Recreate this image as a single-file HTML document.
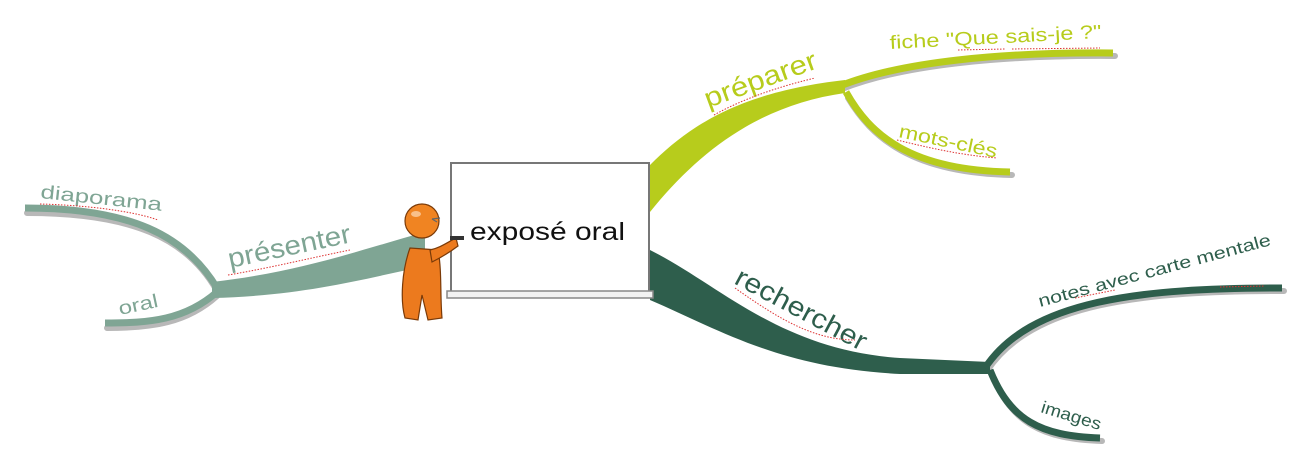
<!DOCTYPE html>
<html><head><meta charset="utf-8"><style>
html,body{margin:0;padding:0;background:#fff}
svg{display:block}
text{font-family:"Liberation Sans",sans-serif}
</style></head><body>
<svg width="1313" height="473" viewBox="0 0 1313 473" xmlns="http://www.w3.org/2000/svg">
<rect width="1313" height="473" fill="#fff"/>
<g fill="none" stroke="#b8b8b8" stroke-linecap="round" transform="translate(2,3)">
<path d="M840,86 C900,62 1000,52 1113,53" stroke-width="6"/>
<path d="M846,95 C870,135 910,170 1010,172" stroke-width="6"/>
<path d="M985,368 C1030,300 1140,288 1282,288" stroke-width="6"/>
<path d="M990,372 C1010,420 1040,436 1100,438" stroke-width="6"/>
<path d="M215,288 C185,235 130,210 25,210" stroke-width="6"/>
<path d="M215,293 C185,320 150,325 105,325" stroke-width="6"/>
</g>
<g fill="#b7cc1c" stroke="#b7cc1c">
<path d="M650,165 C690,125 740,92 845,80 L845,93 C760,105 700,150 650,212 Z" stroke="none"/>
<path fill="none" stroke-width="7" d="M840,86 C900,62 1000,52 1113,53"/>
<path fill="none" stroke-width="7" d="M846,92 C870,135 910,170 1010,172"/>
</g>
<g fill="#2e5e4c" stroke="#2e5e4c">
<path d="M650,250 C720,285 780,350 900,358 L990,362 L990,374 L900,374 C780,368 720,330 650,300 Z" stroke="none"/>
<path fill="none" stroke-width="7" d="M985,368 C1030,300 1140,288 1282,288"/>
<path fill="none" stroke-width="7" d="M990,370 C1010,420 1040,436 1100,438"/>
</g>
<g fill="#7fa594" stroke="#7fa594">
<path d="M425,232 C360,250 300,272 212,282 L212,298 C300,296 360,280 425,266 Z" stroke="none"/>
<path fill="none" stroke-width="7" d="M217,288 C185,235 130,208 25,208"/>
<path fill="none" stroke-width="7" d="M217,292 C185,320 150,323 105,323"/>
</g>
<rect x="451" y="163" width="198" height="130" fill="#fff" stroke="#777" stroke-width="2"/>
<rect x="447" y="291" width="206" height="7" fill="#f2f2f2" stroke="#888" stroke-width="1.5"/>
<text x="470" y="240" font-size="25" fill="#111" textLength="155" lengthAdjust="spacingAndGlyphs">exposé oral</text>
<g stroke="#7a3a08" stroke-width="1.2">
<path d="M410,248 C402,270 400,300 405,318 L418,320 L422,295 L428,320 L442,318 C440,295 442,270 438,250 Z" fill="#ec7a1e"/>
<path d="M430,250 C440,248 448,242 456,238 L458,246 C450,252 440,258 432,262 Z" fill="#ec7a1e"/>
<circle cx="422" cy="221" r="17" fill="#f08422"/>
<ellipse cx="416" cy="214" rx="5" ry="3" fill="#f9c08a" stroke="none"/>
</g>
<path d="M432,219 l8,-1 m-8,1 l5,3" stroke="#666" fill="none" stroke-width="1.2"/>
<rect x="450" y="236" width="14" height="4" fill="#333"/>
<g lengthAdjust="spacingAndGlyphs">
<text transform="translate(708,108) rotate(-20)" font-size="27" fill="#b7cc1c" textLength="118" lengthAdjust="spacingAndGlyphs">préparer</text>
<text x="890" y="49" font-size="19" fill="#b7cc1c" transform="rotate(-3 890 49)" textLength="212" lengthAdjust="spacingAndGlyphs">fiche "Que sais-je ?"</text>
<text transform="translate(898,137) rotate(12)" font-size="19" fill="#b7cc1c" textLength="100" lengthAdjust="spacingAndGlyphs">mots-clés</text>
<text transform="translate(733,283) rotate(28)" font-size="27" fill="#2e5e4c" textLength="145" lengthAdjust="spacingAndGlyphs">rechercher</text>
<text transform="translate(1040,307) rotate(-15)" font-size="17" fill="#2e5e4c" textLength="240" lengthAdjust="spacingAndGlyphs">notes avec carte mentale</text>
<text transform="translate(1040,412) rotate(17)" font-size="17" fill="#2e5e4c" textLength="62" lengthAdjust="spacingAndGlyphs">images</text>
<text transform="translate(230,268) rotate(-12)" font-size="27" fill="#7fa594" textLength="125" lengthAdjust="spacingAndGlyphs">présenter</text>
<text transform="translate(40,198) rotate(6)" font-size="19" fill="#7fa594" textLength="122" lengthAdjust="spacingAndGlyphs">diaporama</text>
<text transform="translate(120,315) rotate(-12)" font-size="19" fill="#7fa594" textLength="40" lengthAdjust="spacingAndGlyphs">oral</text>
</g>
<g fill="none" stroke="#d33" stroke-width="1" stroke-dasharray="1.5,1.5">
<path d="M714,115 C750,95 790,84 815,78"/>
<path d="M958,50 L1005,49 M1012,49 L1100,48"/>
<path d="M897,140 C930,148 960,155 997,158"/>
<path d="M735,288 C780,320 815,340 855,340"/>
<path d="M1075,298 L1115,290 M1220,287 L1265,286"/>
<path d="M228,275 C270,268 310,258 350,250"/>
<path d="M40,204 C80,205 130,210 158,220"/>
</g>
</svg>
</body></html>
